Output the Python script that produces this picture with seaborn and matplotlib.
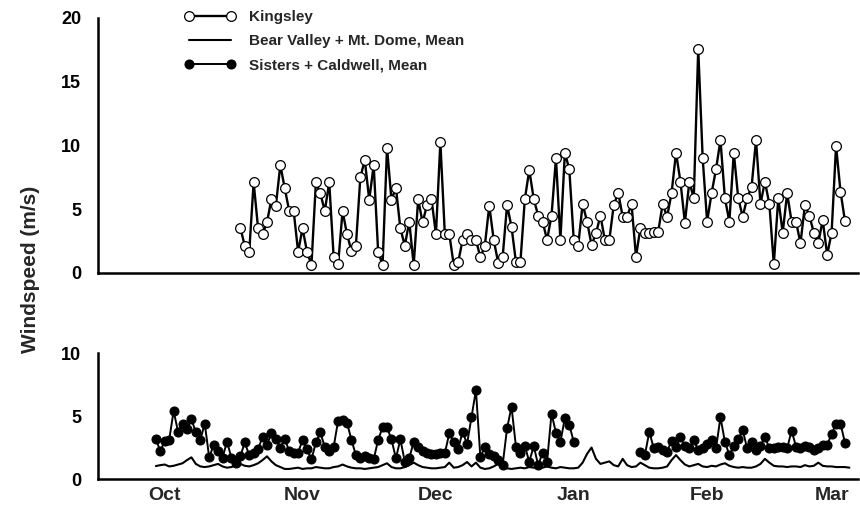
# -*- coding: utf-8 -*-
import numpy as np
import pandas as pd
import matplotlib
matplotlib.use('Agg')
import matplotlib.pyplot as plt
import seaborn as sns

# --- DATA (days counted from Oct 1) ---
kingsley_first_day = 32
kingsley_speed = [3.55, 2.14, 1.62, 7.11, 3.5, 3.03, 3.97, 5.8, 5.28, 8.47, 6.64, 4.86, 4.86, 1.67, 3.5,
                  1.67, 0.63, 7.11, 6.25, 4.86, 7.11, 1.23, 0.68, 4.86, 3.03, 1.73, 2.14, 7.5, 8.86, 5.73,
                  8.47, 1.67, 0.63, 9.83, 5.73, 6.69, 3.5, 2.14, 4.03, 0.63, 5.77, 3.97, 5.33, 5.8, 3.03,
                  10.25,
                  3.08, 3.08, 0.63, 0.84, 2.59, 3.08, 2.59, 2.59, 1.23, 2.14, 5.28, 2.59, 0.81, 1.23, 5.33,
                  3.63, 0.84, 0.84, 5.8, 8.08, 5.8, 4.5, 4.03, 2.59, 4.5, 9.0, 2.59, 9.44, 8.13, 2.59,
                  2.14, 5.41, 4.03, 2.2, 3.1, 4.5, 2.59, 2.59, 5.33, 6.3, 4.42, 4.42, 5.41, 1.28, 3.56,
                  3.1, 3.1,
                  3.24, 3.24, 5.41, 4.42, 6.25, 9.44, 7.16, 3.95, 7.16, 5.86, 17.6, 9.0, 4.03, 6.25, 8.13,
                  10.43, 5.86, 4.03, 9.44, 5.86, 4.42, 5.86, 6.77, 10.43, 5.41, 7.16, 5.41, 0.68, 5.86,
                  3.16, 6.25, 4.03, 4.03, 2.33, 5.33, 4.5, 3.16, 2.33, 4.16, 1.41, 3.16, 9.96, 6.39, 4.1]

bear_first_day = 13
bear_mean = [1.03, 1.1, 1.15, 1.0, 1.05, 1.15, 1.25, 1.5, 1.72, 1.2, 1.0, 0.95, 1.0, 1.1, 1.2,
             1.0, 0.9, 0.95, 1.1, 1.2, 1.05, 1.0, 1.1, 1.25, 1.5, 1.8, 1.4, 1.1, 0.95, 0.8,
             0.8, 0.85, 0.9, 0.8, 0.85, 0.85, 0.95, 0.9, 0.85, 0.85, 0.95, 1.0, 1.15, 1.0, 0.9,
             0.85, 0.85, 0.8, 0.85, 0.9, 0.95, 1.1, 1.25, 0.95, 0.85, 0.85, 0.95, 1.1, 1.3, 1.1,
             0.95, 0.9, 0.85, 0.85, 0.9, 0.95, 1.3, 0.9, 0.95, 1.1, 1.35, 1.0, 1.3, 0.9, 0.8,
             0.85, 1.0, 1.2, 0.9, 0.85, 0.8, 0.85, 0.9, 0.85, 0.95, 0.9, 0.85, 0.9, 1.0, 0.9,
             0.85, 0.95, 0.9, 0.85, 0.85, 0.9, 1.3, 2.0, 2.5, 1.6, 1.2, 1.3, 1.4, 1.1, 1.0,
             1.6, 1.1, 0.95, 1.0, 1.3, 1.1, 0.9, 0.85, 0.85, 0.9, 1.0, 1.5, 1.9, 1.5, 1.15,
             1.0, 1.1, 1.2, 1.0, 0.95, 1.05, 1.0, 1.15, 1.25, 1.05, 0.95, 0.9, 0.95, 0.9, 0.9,
             1.0, 1.2, 1.6, 1.3, 1.05, 1.0, 1.0, 0.95, 1.0, 1.0, 0.95, 1.1, 1.0, 1.05, 1.3,
             1.05, 1.0, 1.0, 0.95, 0.95, 0.95, 0.9]

sisters_first_day_1 = 13
sisters_speed_1 = [3.17, 2.22, 3.0, 3.1, 5.4, 3.75, 4.4, 3.95, 4.76, 3.7, 3.1, 4.4, 1.72, 2.7, 2.2,
                   1.7, 2.96, 1.7, 1.25, 1.8, 2.9, 1.9, 2.1, 2.35, 3.36, 2.7, 3.62, 3.2, 2.5, 3.2,
                   2.2, 2.1, 2.1, 3.1, 2.35, 1.55, 2.9, 3.7, 2.55, 2.2, 2.55, 4.63, 4.7, 4.47, 3.1,
                   1.9, 1.64,
                   1.83, 1.64, 1.56, 3.1, 4.1, 4.1, 3.15, 1.64, 3.15, 1.37, 1.64, 2.96, 2.57, 2.25,
                   2.04, 1.96, 1.96, 2.04, 2.04, 3.62, 2.96, 2.36, 3.76, 2.78, 4.9, 7.06, 1.72, 2.57,
                   2.0, 1.83, 1.5, 1.1, 4.02, 5.74, 2.57, 2.04, 2.62, 1.37, 2.62, 1.1, 2.1, 1.37,
                   5.2, 3.67, 2.96, 4.82, 4.29, 2.96]

sisters_first_day_2 = 122
sisters_speed_2 = [2.17, 1.9, 3.76, 2.43, 2.57, 2.3, 2.17, 3.04, 2.57, 3.3, 2.62, 2.43, 3.1, 2.3,
                   2.43, 2.78, 3.1, 2.43, 4.9, 2.96, 1.9, 2.62, 3.15, 3.89, 2.43, 2.96, 2.3, 2.62,
                   3.36, 2.43, 2.43, 2.57, 2.57, 2.43, 3.84, 2.57, 2.43, 2.62, 2.51, 2.3, 2.43,
                   2.7, 2.7, 3.57, 4.4, 4.4, 2.88]

month_starts = [31, 61, 92, 123, 151]
month_centers = [15, 46, 76, 107, 137, 165]
month_names = ['Oct', 'Nov', 'Dec', 'Jan', 'Feb', 'Mar']

df_k = pd.DataFrame({'day': kingsley_first_day + np.arange(len(kingsley_speed)), 'speed': kingsley_speed})
df_b = pd.DataFrame({'day': bear_first_day + np.arange(len(bear_mean)), 'speed': bear_mean})
df_s1 = pd.DataFrame({'day': sisters_first_day_1 + np.arange(len(sisters_speed_1)), 'speed': sisters_speed_1})
df_s2 = pd.DataFrame({'day': sisters_first_day_2 + np.arange(len(sisters_speed_2)), 'speed': sisters_speed_2})

sns.set_style("white")
plt.rcParams['font.family'] = ['Liberation Sans', 'DejaVu Sans']
plt.rcParams['font.weight'] = 'bold'

fig = plt.figure(figsize=(8.6, 5.09), dpi=100)
ax_top = fig.add_axes([0.114, 0.4637, 0.884, 0.501])
ax_bot = fig.add_axes([0.114, 0.0589, 0.884, 0.2475])

# --- top: Kingsley ---
sns.lineplot(data=df_k, x='day', y='speed', ax=ax_top, color='black', lw=1.7,
             marker='o', markersize=7, markerfacecolor='white', markeredgecolor='black',
             markeredgewidth=0.9, label='Kingsley', legend=False)

# --- bottom: means ---
sns.lineplot(data=df_b, x='day', y='speed', ax=ax_bot, color='black', lw=1.5,
             label='Bear Valley + Mt. Dome, Mean', legend=False)
for i, d in enumerate([df_s1, df_s2]):
    sns.lineplot(data=d, x='day', y='speed', ax=ax_bot, color='black', lw=1.4,
                 marker='o', markersize=6.5, markerfacecolor='black', markeredgecolor='black',
                 label='Sisters + Caldwell, Mean' if i == 0 else '_nolegend_', legend=False)

for ax, top in [(ax_top, 20), (ax_bot, 10)]:
    ax.set_xlim(0, 171)
    ax.set_ylim(0, top)
    ax.set_yticks(np.arange(0, top + 1, 5))
    ax.set_xticks(month_starts)
    ax.set_xticklabels([])
    ax.set_xlabel('')
    ax.set_ylabel('')
    for side in ['top', 'right']:
        ax.spines[side].set_visible(False)
    for side in ['left', 'bottom']:
        ax.spines[side].set_linewidth(1.8)
        ax.spines[side].set_color('black')
    ax.tick_params(axis='both', which='major', direction='inout', length=8, width=1.5,
                   colors='black', labelsize=13, pad=6)
    ax.tick_params(axis='y', which='major', pad=8)
    ax.patch.set_alpha(0)

ax_bot.set_xticks(month_centers, minor=True)
ax_bot.set_xticklabels(month_names, minor=True)
ax_bot.tick_params(axis='x', which='minor', length=0, labelsize=14, pad=6)

fig.text(0.035, 0.47, 'Windspeed (m/s)', rotation=90, ha='center', va='center', fontsize=15)

h1, l1 = ax_top.get_legend_handles_labels()
h2, l2 = ax_bot.get_legend_handles_labels()
ax_top.legend(h1 + h2, l1 + l2, loc='upper left', bbox_to_anchor=(0.215, 0.98),
              bbox_transform=fig.transFigure, frameon=False, fontsize=11, numpoints=2,
              handlelength=3.3, handletextpad=0.9, labelspacing=0.65, borderpad=0, borderaxespad=0)

fig.savefig('out.png', dpi=100)
